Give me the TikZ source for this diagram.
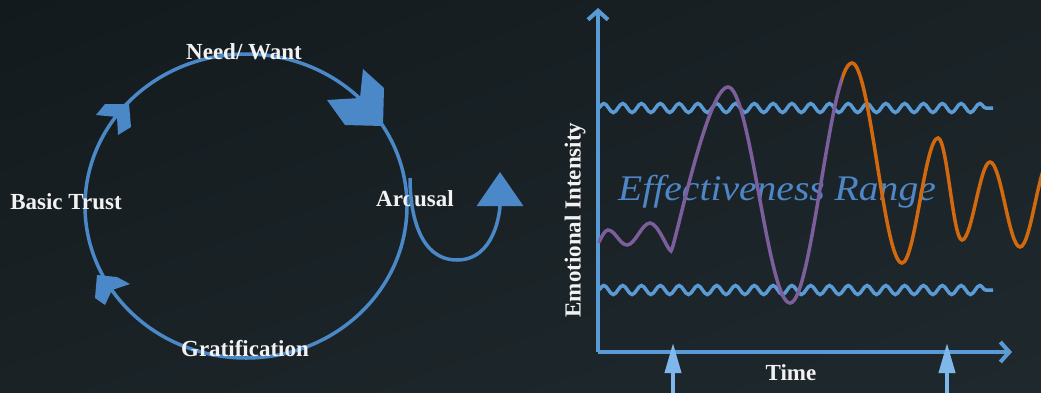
\documentclass[tikz,border=0pt]{standalone}
\usepackage{fontspec}
\setmainfont{Liberation Serif}
\newfontfamily\rangefont[FakeStretch=1.1]{Liberation Serif}
\usetikzlibrary{arrows.meta,decorations.pathmorphing,shadings}

\definecolor{bgdark}{HTML}{121A1E}
\definecolor{bgmid}{HTML}{1A2226}
\definecolor{bglight}{HTML}{1F292D}
\definecolor{ringblue}{HTML}{4A88C8}
\definecolor{axisblue}{HTML}{5B9BD5}
\definecolor{tickblue}{HTML}{80B7EA}
\definecolor{rangeblue}{HTML}{4F86C6}
\definecolor{moodpurple}{HTML}{7D5E9C}
\definecolor{moodorange}{HTML}{D2690F}
\definecolor{labelwhite}{HTML}{F2F2F2}

\tikzset{
  lbl/.style={text=labelwhite,inner sep=0pt,font=\bfseries\fontsize{23}{25}\selectfont},
  ring/.style={draw=ringblue,line width=3.5pt},
  chevron/.style={fill=ringblue},
  axis/.style={draw=axisblue,line width=4pt,-{Straight Barb[length=9pt,width=20pt]}},
  band/.style={draw=axisblue,line width=3.5pt,decorate,
    decoration={snake,amplitude=4.5pt,segment length=18.8pt}},
  marker/.style={draw=tickblue,line width=4pt,-{Triangle[length=30pt,width=16pt]}},
  mood/.style={line width=3.5pt,line cap=round}
}

\def\moodwave{(599,242) .. controls (602,236) and (605,230) .. (608,230)
  .. controls (615,230) and (620,245) .. (627,245)
  .. controls (635,245) and (642,223) .. (650,223)
  .. controls (658,223) and (668,251) .. (671,251)
  .. controls (674,251) and (707,87) .. (728,87)
  .. controls (750,87) and (768,303) .. (790,303)
  .. controls (812,303) and (830,63) .. (852,63)
  .. controls (870,63) and (884,263) .. (902,263)
  .. controls (915,263) and (925,138) .. (938,138)
  .. controls (947,138) and (953,240) .. (962,240)
  .. controls (972,240) and (980,162) .. (990,162)
  .. controls (1001,162) and (1009,247) .. (1020,247)
  .. controls (1031,247) and (1039,160) .. (1050,160)}

\begin{document}
\begin{tikzpicture}[x=1pt,y=-1pt]

\useasboundingbox (0,0) rectangle (1041,392);
\shade[upper left=bgdark,upper right=bgmid,lower left=bgmid,lower right=bglight]
  (0,0) rectangle (1041,392);

% cycle
\coordinate (hub) at (246,206);
\draw[ring] (hub) ellipse [x radius=161,y radius=152];
\fill[chevron] (363,69) -- (384,88) -- (383,126) -- (345,125) -- (327,100) -- (360,98) -- cycle;
\fill[chevron] (96,115) -- (105,104) -- (129,104) -- (131,127) -- (118,135) -- (117,117) -- cycle;
\fill[chevron] (97,275) -- (117,277) -- (130,284) -- (112,290) -- (105,305) -- (95,298) -- cycle;

\node[lbl] (need) at (244,52) {Need/ Want};
\node[lbl] (arousal) at (415,199) {Arousal};
\node[lbl] (grat) at (245,349) {Gratification};
\node[lbl] (trust) at (66,202) {Basic Trust};

\coordinate (escape) at (500,172);
\draw[ring,-{Triangle[length=34pt,width=46pt]}] (410,178) to[out=-90,in=180] (457,260) to[out=0,in=-90] (escape);

% chart
\coordinate (origin) at (598,352);
\coordinate (ytop) at (598,8);
\coordinate (xend) at (1012,352);
\draw[axis] (origin) -- (ytop);
\draw[axis] (origin) -- (xend);

\draw[band] (598,108) -- (993,108);
\draw[band] (598,290) -- (993,290);

\node[text=rangeblue,inner sep=0pt,font=\rangefont\itshape\fontsize{36}{40}\selectfont] (range) at (777,192) {Effectiveness Range};

\begin{scope}
\clip (0,0) rectangle (842,392);
\draw[mood,moodpurple] \moodwave;
\end{scope}
\begin{scope}
\clip (842,0) rectangle (1041,392);
\draw[mood,moodorange] \moodwave;
\end{scope}

\node[lbl,rotate=90] (intensity) at (575,220) {Emotional Intensity};
\node[lbl] (time) at (791,373) {Time};

\coordinate (start) at (673,343);
\coordinate (stop) at (947,343);
\draw[marker] (673,395) -- (start);
\draw[marker] (947,395) -- (stop);

\end{tikzpicture}
\end{document}
